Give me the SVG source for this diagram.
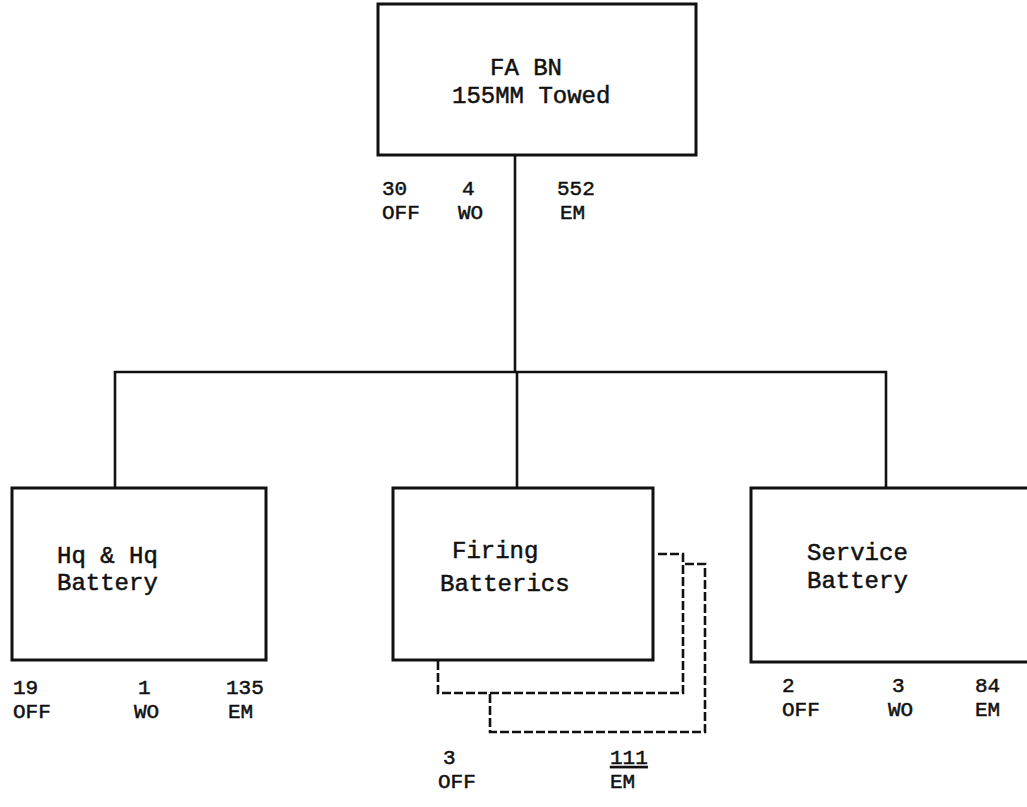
<svg xmlns="http://www.w3.org/2000/svg" width="1027" height="807" viewBox="0 0 1027 807">
<style>
.box{fill:none;stroke:#111;stroke-width:3;stroke-linejoin:miter}
.shadow{fill:none;stroke:#111;stroke-width:2.6;stroke-dasharray:9 3}
.conn{fill:none;stroke:#111;stroke-width:2.6}
text{font-family:"Liberation Mono","Courier New",monospace;font-size:24px;fill:#111;stroke:#111;stroke-width:0.5}
text.lbl{font-size:21px}
</style>
<rect width="1027" height="807" fill="#fff"/>
<g id="connectors">
<line class="conn" x1="515" y1="155" x2="515" y2="372"/>
<polyline class="conn" points="115,488 115,372 886,372 886,488"/>
<line class="conn" x1="517" y1="372" x2="517" y2="488"/>
</g>
<g id="fa-bn">
<rect class="box" x="378" y="4" width="318" height="151"/>
<text x="490" y="75">FA BN</text>
<text x="452" y="103">155MM Towed</text>
<text class="lbl" x="382" y="195">30</text>
<text class="lbl" x="382" y="219">OFF</text>
<text class="lbl" x="462" y="195">4</text>
<text class="lbl" x="458" y="219">WO</text>
<text class="lbl" x="557" y="195">552</text>
<text class="lbl" x="560" y="219">EM</text>
</g>
<g id="hq-battery">
<rect class="box" x="12" y="488" width="254" height="172"/>
<text x="57" y="563">Hq &amp; Hq</text>
<text x="57" y="590">Battery</text>
<text class="lbl" x="13" y="694">19</text>
<text class="lbl" x="13" y="718">OFF</text>
<text class="lbl" x="138" y="694">1</text>
<text class="lbl" x="134" y="718">WO</text>
<text class="lbl" x="226" y="694">135</text>
<text class="lbl" x="228" y="718">EM</text>
</g>
<g id="firing-batteries">
<polyline class="shadow" points="658,554 683,554 683,693 438,693 438,660"/>
<polyline class="shadow" points="685,564 705,564 705,732 490,732 490,693"/>
<rect class="box" x="393" y="488" width="260" height="172"/>
<text x="452" y="558">Firing</text>
<text x="440" y="591">Batterics</text>
<text class="lbl" x="443" y="764">3</text>
<text class="lbl" x="438" y="788">OFF</text>
<text class="lbl" x="610" y="764" text-decoration="underline">111</text>
<text class="lbl" x="610" y="788">EM</text>
</g>
<g id="service-battery">
<polyline class="box" points="1027,488 751,488 751,662 1027,662"/>
<text x="807" y="560">Service</text>
<text x="807" y="588">Battery</text>
<text class="lbl" x="782" y="692">2</text>
<text class="lbl" x="782" y="716">OFF</text>
<text class="lbl" x="892" y="692">3</text>
<text class="lbl" x="888" y="716">WO</text>
<text class="lbl" x="975" y="692">84</text>
<text class="lbl" x="975" y="716">EM</text>
</g>
</svg>
